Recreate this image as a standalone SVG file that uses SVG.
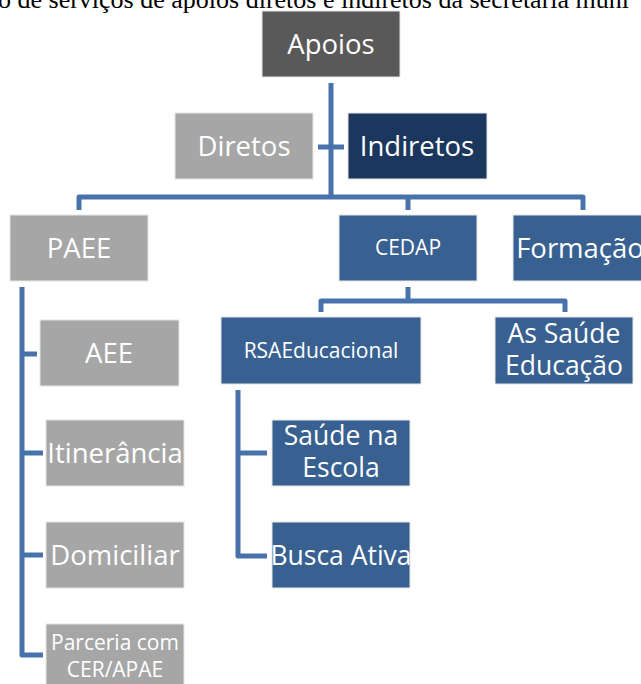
<svg xmlns="http://www.w3.org/2000/svg" width="641" height="684" viewBox="0 0 641 684">
<style>
.box{stroke:#e6e6e6;stroke-width:1}
.dark{fill:#595959}
.gray{fill:#a6a6a6}
.navy{fill:#1c375e}
.blue{fill:#386090}
.t{font-family:"Open Sans","Noto Sans",sans-serif;fill:#ffffff;text-anchor:middle;font-size:27.5px}
.s{font-size:21px}
.m{font-size:26.5px}
.cap{font-family:"Liberation Serif",serif;font-size:26px;fill:#000}
.c{fill:none;stroke:#4872aa;stroke-width:5;stroke-linejoin:round;stroke-linecap:butt}
</style>
<rect width="641" height="684" fill="#ffffff"/>
<text class="cap" x="-2" y="8">o de serviços de apoios diretos e indiretos da secretaria muni</text>
<g id="connectors">
<path class="c" d="M331 83 V197"/>
<path class="c" d="M318 147 H344"/>
<path class="c" d="M79 210 V197 H583 V210 M408 197 V210"/>
<path class="c" d="M22 287 V655 H43 M22 354 H37 M22 453 H43 M22 555 H43"/>
<path class="c" d="M408 287 V301 M321 312 V301 H565 V312"/>
<path class="c" d="M238 390 V556 H267 M238 453 H267"/>
</g>
<g id="apoios"><rect class="box dark" x="262" y="11" width="138" height="66"/><text class="t" x="331" y="54">Apoios</text></g>
<g id="diretos"><rect class="box gray" x="175" y="113" width="138" height="66"/><text class="t" x="244" y="156">Diretos</text></g>
<g id="indiretos"><rect class="box navy" x="348" y="113" width="139" height="66"/><text class="t" x="417" y="156">Indiretos</text></g>
<g id="paee"><rect class="box gray" x="10" y="215" width="138" height="66"/><text class="t" x="79" y="258">PAEE</text></g>
<g id="cedap"><rect class="box blue" x="339" y="215" width="138" height="66"/><text class="t s" x="408" y="255">CEDAP</text></g>
<g id="formacao"><rect class="box blue" x="513" y="215" width="138" height="66"/><text class="t" x="580" y="258">Formação</text></g>
<g id="rsa"><rect class="box blue" x="221" y="317" width="200" height="67"/><text class="t s" x="321" y="358">RSAEducacional</text></g>
<g id="assaude"><rect class="box blue" x="495" y="317" width="138" height="67"/><text class="t m" x="564" y="343">As Saúde</text><text class="t m" x="564" y="375">Educação</text></g>
<g id="aee"><rect class="box gray" x="40" y="320" width="139" height="66"/><text class="t" x="109" y="363">AEE</text></g>
<g id="itinerancia"><rect class="box gray" x="46" y="420" width="138" height="66"/><text class="t" x="115" y="463">Itinerância</text></g>
<g id="domiciliar"><rect class="box gray" x="46" y="522" width="138" height="66"/><text class="t" x="115" y="565">Domiciliar</text></g>
<g id="parceria"><rect class="box gray" x="46" y="624" width="138" height="66"/><text class="t s" x="115" y="650">Parceria com</text><text class="t s" x="115" y="677">CER/APAE</text></g>
<g id="saude"><rect class="box blue" x="272" y="420" width="138" height="66"/><text class="t m" x="341" y="445">Saúde na</text><text class="t m" x="341" y="477">Escola</text></g>
<g id="busca"><rect class="box blue" x="272" y="522" width="138" height="66"/><text class="t m" x="341" y="565">Busca Ativa</text></g>
</svg>
